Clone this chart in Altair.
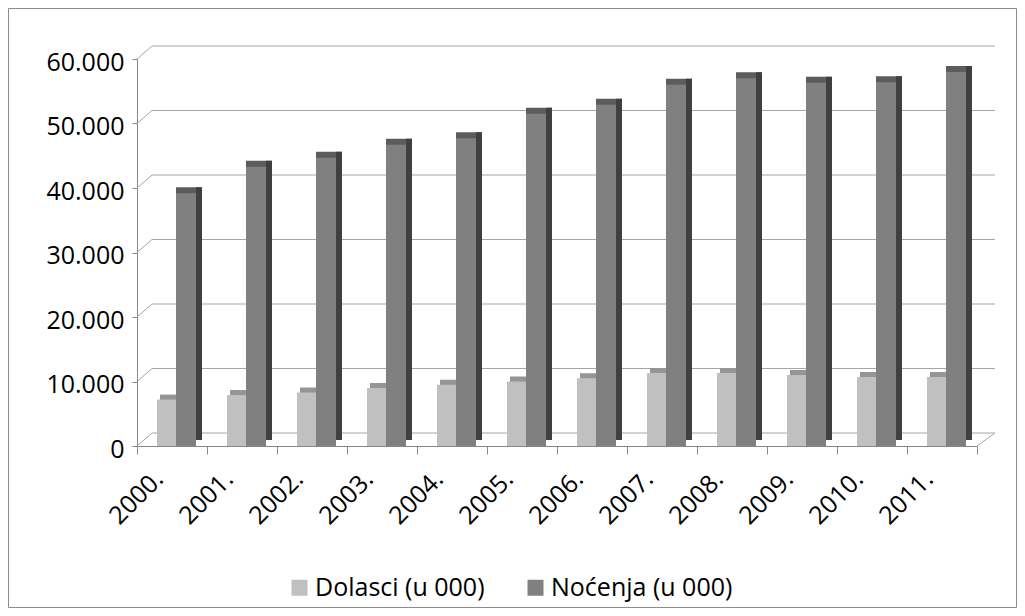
import altair as alt
import pandas as pd

years = ["2000.", "2001.", "2002.", "2003.", "2004.", "2005.", "2006.", "2007.", "2008.", "2009.", "2010.", "2011."]
dolasci = [7200, 7900, 8300, 9000, 9500, 10000, 10500, 11300, 11300, 11000, 10700, 10700]
nocenja = [39200, 43300, 44700, 46700, 47700, 51500, 52900, 56000, 57000, 56300, 56400, 58000]
series_names = ["Dolasci (u 000)", "Noćenja (u 000)"]
grid_values = [0, 10000, 20000, 30000, 40000, 50000, 60000]

rows = []
for y, d, n in zip(years, dolasci, nocenja):
    rows.append({"year": y, "series": series_names[0], "value": d})
    rows.append({"year": y, "series": series_names[1], "value": n})
df = pd.DataFrame(rows)
grid_df = pd.DataFrame({"v": grid_values})

W, H = 840, 387
FONT = "Open Sans"
FS = 25

xenc = alt.X("year:N", sort=years, scale=alt.Scale(paddingInner=0, paddingOuter=0),
             axis=alt.Axis(title=None, labelAngle=-45, labelFontSize=FS, labelFont=FONT,
                           labelColor="black", tickBand="extent", tickSize=8, tickColor="#888888",
                           domainColor="#888888", labelPadding=12, labelOffset=-22))
yscale = alt.Scale(domain=[0, 60000], nice=False)
yaxis = alt.Axis(title=None, values=grid_values, grid=False,
                 labelExpr="replace(format(datum.value, ','), ',', '.')",
                 labelFontSize=FS, labelFont=FONT, labelColor="black", labelOffset=3,
                 tickSize=5, tickColor="#888888", domainColor="#888888", labelPadding=8)


def yenc(field):
    return alt.Y(field, scale=yscale, axis=yaxis)


color = alt.Color("series:N", scale=alt.Scale(domain=series_names, range=["#C0C0C0", "#808080"]),
                  legend=alt.Legend(title=None, orient="none", direction="horizontal",
                                    legendX=150, legendY=516, symbolType="square", symbolSize=256,
                                    symbolStrokeWidth=0, labelFontSize=FS, labelFont=FONT,
                                    labelColor="black", columnPadding=38, labelOffset=3,
                                    labelLimit=400))

base = alt.Chart(df)

grid = alt.Chart(grid_df).mark_rule(color="#a6a6a6", strokeWidth=1, yOffset=-13).encode(
    x=alt.value(15), x2=alt.value(858), y=yenc("v:Q"))
diag = alt.Chart(grid_df).mark_rule(color="#a6a6a6", strokeWidth=1, y2Offset=-13).encode(
    x=alt.value(0), x2=alt.value(15), y=yenc("v:Q"), y2="v:Q")
rdiag = alt.Chart(grid_df).transform_filter("datum.v == 0").mark_rule(
    color="#a6a6a6", strokeWidth=1, y2Offset=-13).encode(
    x=alt.value(840), x2=alt.value(858), y=yenc("v:Q"), y2="v:Q")

dol = base.transform_filter(alt.datum.series == series_names[0])
noc = base.transform_filter(alt.datum.series == series_names[1])

dol_top = dol.mark_bar(width=19, xOffset=-2.5, yOffset=-5, y2Offset=-4, color="#959595").encode(
    x=xenc, y=yenc("value:Q"))
dol_front = dol.mark_bar(width=19, xOffset=-5.5, y2Offset=-4).encode(
    x=xenc, y=yenc("value:Q"), color=color)
noc_top = noc.mark_bar(width=26, xOffset=17, yOffset=-6, y2Offset=-8, color="#5c5c5c").encode(
    x=xenc, y=yenc("value:Q"))
noc_side = noc.mark_bar(width=6, xOffset=27, yOffset=-6, y2Offset=-8, color="#404040").encode(
    x=xenc, y=yenc("value:Q"))
noc_front = noc.mark_bar(width=20, xOffset=14, y2Offset=-4).encode(
    x=xenc, y=yenc("value:Q"), color=color)

border = alt.Chart(grid_df).transform_filter("datum.v == 0").mark_rect(
    fillOpacity=0, stroke="#8c8c8c", strokeWidth=1).encode(
    x=alt.value(-128.5), x2=alt.value(879.5), y=alt.value(-50.5), y2=alt.value(548.5))

chart = alt.layer(border, grid, diag, rdiag, dol_top, dol_front, noc_top, noc_side, noc_front).properties(
    width=W, height=H,
    autosize=alt.AutoSizeParams(type="none"),
    padding={"left": 129, "top": 51, "right": 40, "bottom": 162},
).configure_view(stroke=None)

chart.save("out.html", embed_options={"renderer": "svg", "actions": False})
